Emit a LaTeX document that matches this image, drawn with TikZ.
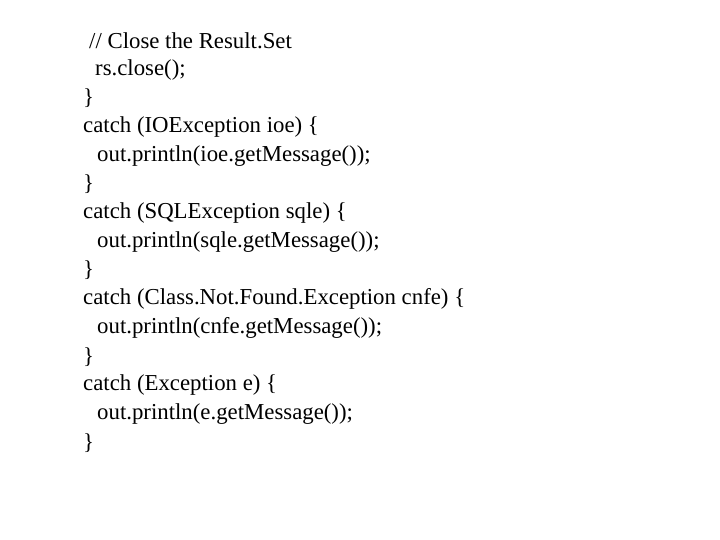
\documentclass[tikz,border=0pt]{standalone}
\usepackage{fontspec}
\setmainfont{Liberation Serif}
\begin{document}
\begin{tikzpicture}[x=1pt, y=1pt, every node/.style={anchor=west, inner sep=0pt, font=\fontsize{22.8}{26}\selectfont}]
  \useasboundingbox (0,0) rectangle (720,540);
  \path node (L1)  at (89,499)   {// Close the Result.Set}
        node (L2)  at (95,470.3) {rs.close();}
        node (L3)  at (83,441.6) {\}}
        node (L4)  at (83,412.9) {catch (IOException ioe) \{}
        node (L5)  at (97,384.2) {out.println(ioe.getMessage());}
        node (L6)  at (83,355.5) {\}}
        node (L7)  at (83,326.8) {catch (SQLException sqle) \{}
        node (L8)  at (97,298.1) {out.println(sqle.getMessage());}
        node (L9)  at (83,269.4) {\}}
        node (L10) at (83,240.7) {catch (Class.Not.Found.Exception cnfe) \{}
        node (L11) at (97,212)   {out.println(cnfe.getMessage());}
        node (L12) at (83,183.3) {\}}
        node (L13) at (83,154.6) {catch (Exception e) \{}
        node (L14) at (97,125.9) {out.println(e.getMessage());}
        node (L15) at (83,97.2)  {\}};
\end{tikzpicture}
\end{document}
